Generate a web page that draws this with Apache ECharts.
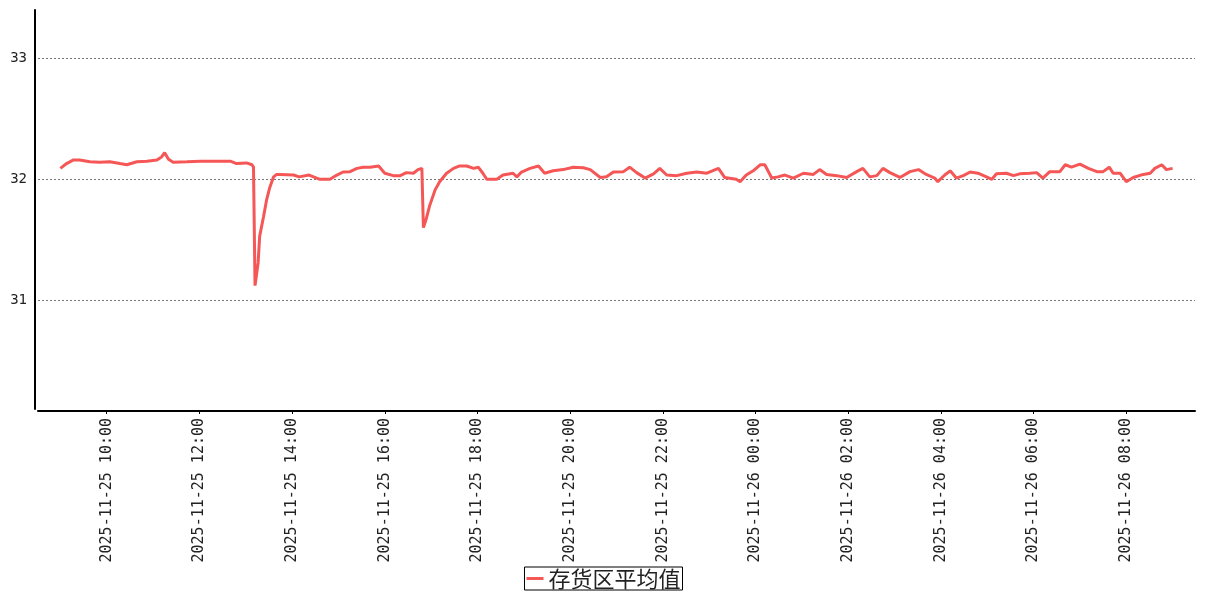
<!DOCTYPE html>
<html>
<head>
<meta charset="utf-8">
<script src="https://cdn.jsdelivr.net/npm/echarts@6/dist/echarts.min.js"></script>
<style>
  html, body { margin: 0; padding: 0; background: #fff; }
  #chart { width: 1207px; height: 600px; }
</style>
</head>
<body>
<div id="chart"></div>
<script>
// 存货区平均值
const times = [
  '2025-11-25 09:00', '2025-11-25 09:08', '2025-11-25 09:17', '2025-11-25 09:25', '2025-11-25 09:38',
  '2025-11-25 09:51', '2025-11-25 10:04', '2025-11-25 10:17', '2025-11-25 10:26', '2025-11-25 10:39',
  '2025-11-25 10:52', '2025-11-25 11:05', '2025-11-25 11:11', '2025-11-25 11:15', '2025-11-25 11:20',
  '2025-11-25 11:26', '2025-11-25 11:44', '2025-11-25 12:01', '2025-11-25 12:18', '2025-11-25 12:40',
  '2025-11-25 12:48', '2025-11-25 13:01', '2025-11-25 13:08', '2025-11-25 13:10', '2025-11-25 13:12',
  '2025-11-25 13:16', '2025-11-25 13:18', '2025-11-25 13:23', '2025-11-25 13:27', '2025-11-25 13:31',
  '2025-11-25 13:36', '2025-11-25 13:40', '2025-11-25 13:44', '2025-11-25 14:02', '2025-11-25 14:09',
  '2025-11-25 14:22', '2025-11-25 14:36', '2025-11-25 14:49', '2025-11-25 14:58', '2025-11-25 15:06',
  '2025-11-25 15:15', '2025-11-25 15:24', '2025-11-25 15:32', '2025-11-25 15:41', '2025-11-25 15:52',
  '2025-11-25 16:00', '2025-11-25 16:11', '2025-11-25 16:20', '2025-11-25 16:28', '2025-11-25 16:37',
  '2025-11-25 16:43', '2025-11-25 16:48', '2025-11-25 16:50', '2025-11-25 16:54', '2025-11-25 16:58',
  '2025-11-25 17:05', '2025-11-25 17:11', '2025-11-25 17:20', '2025-11-25 17:29', '2025-11-25 17:37',
  '2025-11-25 17:46', '2025-11-25 17:55', '2025-11-25 18:01', '2025-11-25 18:07', '2025-11-25 18:12',
  '2025-11-25 18:25', '2025-11-25 18:33', '2025-11-25 18:46', '2025-11-25 18:51', '2025-11-25 18:57',
  '2025-11-25 19:08', '2025-11-25 19:19', '2025-11-25 19:27', '2025-11-25 19:38', '2025-11-25 19:51',
  '2025-11-25 20:04', '2025-11-25 20:17', '2025-11-25 20:26', '2025-11-25 20:39', '2025-11-25 20:47',
  '2025-11-25 20:56', '2025-11-25 21:09', '2025-11-25 21:17', '2025-11-25 21:26', '2025-11-25 21:37',
  '2025-11-25 21:48', '2025-11-25 21:56', '2025-11-25 22:05', '2025-11-25 22:18', '2025-11-25 22:31',
  '2025-11-25 22:44', '2025-11-25 22:57', '2025-11-25 23:12', '2025-11-25 23:20', '2025-11-25 23:35',
  '2025-11-25 23:40', '2025-11-25 23:48', '2025-11-25 23:57', '2025-11-26 00:06', '2025-11-26 00:12',
  '2025-11-26 00:21', '2025-11-26 00:29', '2025-11-26 00:38', '2025-11-26 00:49', '2025-11-26 01:02',
  '2025-11-26 01:15', '2025-11-26 01:23', '2025-11-26 01:32', '2025-11-26 01:45', '2025-11-26 01:58',
  '2025-11-26 02:11', '2025-11-26 02:19', '2025-11-26 02:28', '2025-11-26 02:37', '2025-11-26 02:45',
  '2025-11-26 02:54', '2025-11-26 03:07', '2025-11-26 03:20', '2025-11-26 03:31', '2025-11-26 03:41',
  '2025-11-26 03:52', '2025-11-26 03:56', '2025-11-26 04:05', '2025-11-26 04:12', '2025-11-26 04:20',
  '2025-11-26 04:29', '2025-11-26 04:38', '2025-11-26 04:48', '2025-11-26 04:59', '2025-11-26 05:06',
  '2025-11-26 05:12', '2025-11-26 05:25', '2025-11-26 05:34', '2025-11-26 05:42', '2025-11-26 05:55',
  '2025-11-26 06:04', '2025-11-26 06:12', '2025-11-26 06:21', '2025-11-26 06:34', '2025-11-26 06:41',
  '2025-11-26 06:49', '2025-11-26 07:00', '2025-11-26 07:11', '2025-11-26 07:22', '2025-11-26 07:30',
  '2025-11-26 07:38', '2025-11-26 07:43', '2025-11-26 07:52', '2025-11-26 08:00', '2025-11-26 08:09',
  '2025-11-26 08:22', '2025-11-26 08:31', '2025-11-26 08:37', '2025-11-26 08:46', '2025-11-26 08:52',
  '2025-11-26 09:00'
];
const avgValues = [
  32.09, 32.13, 32.16, 32.16, 32.145,
  32.14, 32.145, 32.13, 32.12, 32.145,
  32.15, 32.16, 32.185, 32.22, 32.165,
  32.14, 32.145, 32.15, 32.15, 32.15,
  32.13, 32.135, 32.12, 32.10, 31.12,
  31.31, 31.53, 31.69, 31.83, 31.93,
  32.02, 32.04, 32.04, 32.035, 32.02,
  32.035, 32.00, 32.00, 32.035, 32.06,
  32.063, 32.09, 32.10, 32.10, 32.11,
  32.05, 32.03, 32.03, 32.055, 32.05,
  32.08, 32.09, 31.60, 31.68, 31.78,
  31.91, 31.98, 32.05, 32.09, 32.11,
  32.11, 32.09, 32.10, 32.05, 32.00,
  32.00, 32.035, 32.05, 32.02, 32.06,
  32.09, 32.11, 32.05, 32.07, 32.08,
  32.10, 32.095, 32.08, 32.015, 32.02,
  32.06, 32.063, 32.10, 32.055, 32.01,
  32.045, 32.09, 32.035, 32.03, 32.05,
  32.06, 32.05, 32.09, 32.015, 32.00,
  31.98, 32.035, 32.07, 32.12, 32.12,
  32.01, 32.02, 32.035, 32.01, 32.05,
  32.04, 32.08, 32.04, 32.03, 32.015,
  32.063, 32.09, 32.02, 32.03, 32.09,
  32.055, 32.015, 32.063, 32.08, 32.04,
  32.01, 31.98, 32.035, 32.07, 32.01,
  32.03, 32.06, 32.05, 32.02, 32.00,
  32.045, 32.05, 32.03, 32.045, 32.05,
  32.055, 32.01, 32.063, 32.063, 32.12,
  32.10, 32.125, 32.09, 32.063, 32.063,
  32.10, 32.05, 32.05, 31.98, 32.015,
  32.04, 32.05, 32.09, 32.12, 32.08,
  32.09
];
const tickTimes = [
  '2025-11-25 10:00', '2025-11-25 12:00', '2025-11-25 14:00', '2025-11-25 16:00',
  '2025-11-25 18:00', '2025-11-25 20:00', '2025-11-25 22:00', '2025-11-26 00:00',
  '2025-11-26 02:00', '2025-11-26 04:00', '2025-11-26 06:00', '2025-11-26 08:00'
];
const seriesName = '存货区平均值';

const toMs = s => new Date(s.replace(' ', 'T') + ':00').getTime();
const pad = n => (n < 10 ? '0' : '') + n;
const fmt = ms => {
  const d = new Date(ms);
  return d.getFullYear() + '-' + pad(d.getMonth() + 1) + '-' + pad(d.getDate()) +
    ' ' + pad(d.getHours()) + ':' + pad(d.getMinutes());
};

const chart = echarts.init(document.getElementById('chart'));
const tickMs = tickTimes.map(toMs);

chart.setOption({
  animation: false,
  backgroundColor: '#fff',
  grid: { left: 38, right: 12, top: 10, bottom: 191 },
  legend: {
    data: [{ name: seriesName, icon: 'rect' }],
    bottom: 10,
    left: 'center',
    itemWidth: 17,
    itemHeight: 3,
    padding: [0, 2],
    borderColor: '#000',
    borderWidth: 1,
    borderRadius: 0,
    textStyle: {
      fontFamily: 'Noto Sans CJK SC',
      fontSize: 22,
      lineHeight: 23,
      color: '#222'
    }
  },
  xAxis: {
    type: 'value',
    min: toMs('2025-11-25 08:31'),
    max: toMs('2025-11-26 09:29'),
    offset: 2,
    axisLine: { lineStyle: { color: '#000', width: 2 } },
    axisTick: { show: true, length: 3, customValues: tickMs, lineStyle: { color: '#000' } },
    splitLine: { show: false },
    axisLabel: {
      customValues: tickMs,
      rotate: 90,
      margin: 7,
      fontFamily: 'DejaVu Sans Mono',
      fontSize: 15,
      color: '#222',
      formatter: v => fmt(v)
    }
  },
  yAxis: {
    type: 'value',
    min: 30.1,
    max: 33.4,
    splitNumber: 3,
    offset: 3,
    axisLine: { show: true, lineStyle: { color: '#000', width: 2 } },
    axisTick: { show: false },
    axisLabel: {
      showMinLabel: false,
      showMaxLabel: false,
      margin: 8,
      fontFamily: 'DejaVu Sans Mono',
      fontSize: 14,
      color: '#222'
    },
    splitLine: {
      show: true,
      showMinLine: false,
      showMaxLine: false,
      lineStyle: { color: '#777', type: [2, 2], width: 1 }
    }
  },
  series: [{
    name: seriesName,
    type: 'line',
    showSymbol: false,
    symbol: 'none',
    lineStyle: { color: '#f55656', width: 3 },
    itemStyle: { color: '#f55656' },
    data: times.map((t, i) => [toMs(t), avgValues[i]])
  }]
});
</script>
</body>
</html>
